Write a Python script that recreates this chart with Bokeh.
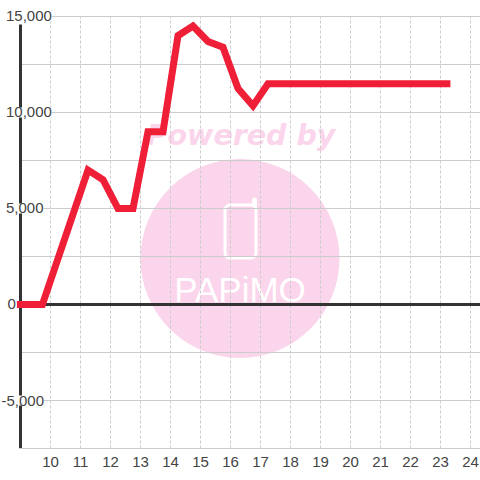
from bokeh.plotting import figure
from bokeh.embed import file_html
from bokeh.resources import INLINE
from bokeh.core.properties import value
from bokeh.models import FixedTicker, LinearAxis, Range1d

# data
hours = [8.88, 9.73, 11.25, 11.75, 12.25, 12.75, 13.25, 13.75, 14.25, 14.75, 15.25, 15.75, 16.25, 16.75, 17.25, 23.33]
sales = [0, 0, 7000, 6500, 5000, 5000, 9000, 9000, 14000, 14500, 13700, 13400, 11250, 10350, 11500, 11500]
x_ticks = [10, 11, 12, 13, 14, 15, 16, 17, 18, 19, 20, 21, 22, 23, 24]
y_labels = ["15,000", "10,000", "5,000", "0", "-5,000"]
y_label_values = [15000, 10000, 5000, 0, -5000]
y_grid_values = [15000, 12500, 10000, 7500, 5000, 2500, 0, -2500, -5000]

X0, X1 = 8.33333, 24.33333
Y0, Y1 = -7500, 15833.33
W, FH = 480, 448
def dx(px): return X0 + (px - 0.5) / W * (X1 - X0)
def dy(py): return Y1 - (py - 0.5) / FH * (Y1 - Y0)

p = figure(width=480, height=480, output_backend="svg", toolbar_location=None,
           x_range=Range1d(X0, X1), y_range=Range1d(Y0, Y1),
           min_border_left=0, min_border_right=0, min_border_top=0, min_border_bottom=32,
           x_axis_type=None, y_axis_type=None)
p.outline_line_color = None
p.background_fill_color = "white"
p.grid.visible = False

PINK = "#fbd5ec"
# watermark
p.scatter([dx(240)], [dy(258.5)], size=199, marker="circle", fill_color=PINK, line_color=None, level="image")
p.text([dx(241)], [dy(135)], text=["Powered by"], text_font=value("DejaVu Sans"), text_font_style="bold italic",
       text_font_size="28.5px", text_color=PINK, text_align="center", text_baseline="alphabetic", level="image")
p.quad(left=[dx(225)], right=[dx(256)], top=[dy(205)], bottom=[dy(258)], fill_color=None, line_color="white",
       line_width=3, border_radius=5, level="image")
p.line([dx(254.5), dx(254.5)], [dy(205), dy(200)], line_color="white", line_width=5, line_cap="round", level="image")
p.text([dx(240)], [dy(289)], text=["PAPiMO"], text_font=value("Liberation Sans"), text_font_size="35px",
       text_color="white", text_align="center", text_baseline="alphabetic", level="image")

# grids
p.segment([dx(20.5)] * len(y_grid_values), y_grid_values, [X1] * len(y_grid_values), y_grid_values,
          line_color="#cccccc", line_width=1, level="underlay")
p.segment(x_ticks, [-7500] * len(x_ticks), x_ticks, [15000] * len(x_ticks),
          line_color="#cccccc", line_width=1, line_dash="3 2", level="underlay")

# axes
xaxis = LinearAxis(ticker=FixedTicker(ticks=x_ticks), bounds=(9, X1), axis_line_color="#cccccc", axis_line_width=1,
                   major_tick_line_color=None, minor_tick_line_color=None, major_label_standoff=2,
                   major_label_text_font="Liberation Sans", major_label_text_font_size="15px",
                   major_label_text_color="#444444")
p.add_layout(xaxis, "below")
p.segment([9], [0], [X1], [0], line_color="#333333", line_width=3)
p.segment([9], [-7500], [9], [14583], line_color="#333333", line_width=3)

# y labels
label_px = [6, 6, 6, 7.5, 1.5]
p.text([dx(v) for v in label_px], y_label_values, text=y_labels, text_font=value("Liberation Sans"),
       text_font_size="15px", text_color="#444444", text_align="left", text_baseline="middle",
       background_fill_color="white", level="overlay")

# series
p.line(hours, sales, line_color="#f01f38", line_width=7, line_join="miter", line_cap="butt", level="overlay")

open("out.html", "w").write(file_html(p, INLINE))
